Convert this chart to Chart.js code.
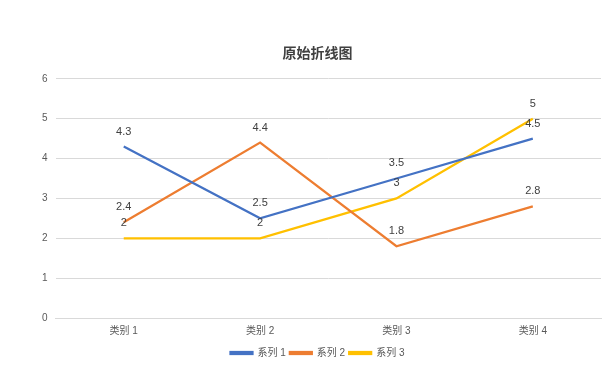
<!DOCTYPE html>
<html>
<head>
<meta charset="utf-8">
<script src="https://cdn.jsdelivr.net/npm/chart.js@4/dist/chart.umd.min.js"></script>
<style>
  html, body { margin: 0; padding: 0; background: #fff; }
  #wrap { width: 605px; height: 370px; }
</style>
</head>
<body>
<div id="wrap"><canvas id="chart"></canvas></div>
<script>
const categories = ['类别 1', '类别 2', '类别 3', '类别 4']
const series1 = [4.3, 2.5, 3.5, 4.5]
const series2 = [2.4, 4.4, 1.8, 2.8]
const series3 = [2, 2, 3, 5]
const seriesNames = ['系列 1', '系列 2', '系列 3']
const colors = ['#4472C4', '#ED7D31', '#FFC000']

const FONT = "'Liberation Sans', Arial, 'Noto Sans CJK SC', sans-serif"

// simple value labels above each point
const valueLabels = {
    id: 'valueLabels',
    afterDatasetsDraw(chart){
        const ctx = chart.ctx
        ctx.save()
        ctx.font = '11px ' + FONT
        ctx.fillStyle = '#404040'
        ctx.textAlign = 'center'
        ctx.textBaseline = 'middle'
        chart.data.datasets.forEach((ds, i) => {
            chart.getDatasetMeta(i).data.forEach((pt, j) => {
                ctx.fillText(String(ds.data[j]), pt.x, pt.y - 15)
            })
        })
        ctx.restore()
    }
}

const seriesData = [series1, series2, series3]
let datasets = seriesData.map((d, i) => ({
    label: seriesNames[i],
    data: d,
    borderColor: colors[i],
    backgroundColor: colors[i],
    borderWidth: 2.25,
    pointRadius: 0,
    tension: 0
}))

let ctx = document.getElementById('chart').getContext('2d')
let chart = new Chart(ctx, {
    type: 'line',
    data: { labels: categories, datasets: datasets },
    options: {
        responsive: true,
        maintainAspectRatio: false,
        animation: false,
        layout: { padding: { left: 34, right: 4, top: 0, bottom: 2 } },
        scales: {
            x: {
                offset: true,
                grid: { display: false, drawTicks: false },
                border: { color: '#d9d9d9' },
                ticks: { color: '#595959', font: { family: FONT, size: 10 }, padding: 7 }
            },
            y: {
                min: 0,
                max: 6,
                ticks: { stepSize: 1, color: '#595959', font: { family: FONT, size: 10 }, padding: 8 },
                grid: { color: '#d9d9d9', drawTicks: false },
                border: { display: false }
            }
        },
        plugins: {
            title: {
                display: true,
                text: '原始折线图',
                color: '#404040',
                font: { family: FONT, size: 14, weight: 'bold' },
                padding: { top: 46, bottom: 16 }
            },
            legend: {
                position: 'bottom',
                labels: {
                    boxWidth: 22,
                    boxHeight: 2,
                    color: '#595959',
                    font: { family: FONT, size: 10 },
                    padding: 4
                }
            },
            tooltip: { enabled: false }
        }
    },
    plugins: [valueLabels]
})
</script>
</body>
</html>
